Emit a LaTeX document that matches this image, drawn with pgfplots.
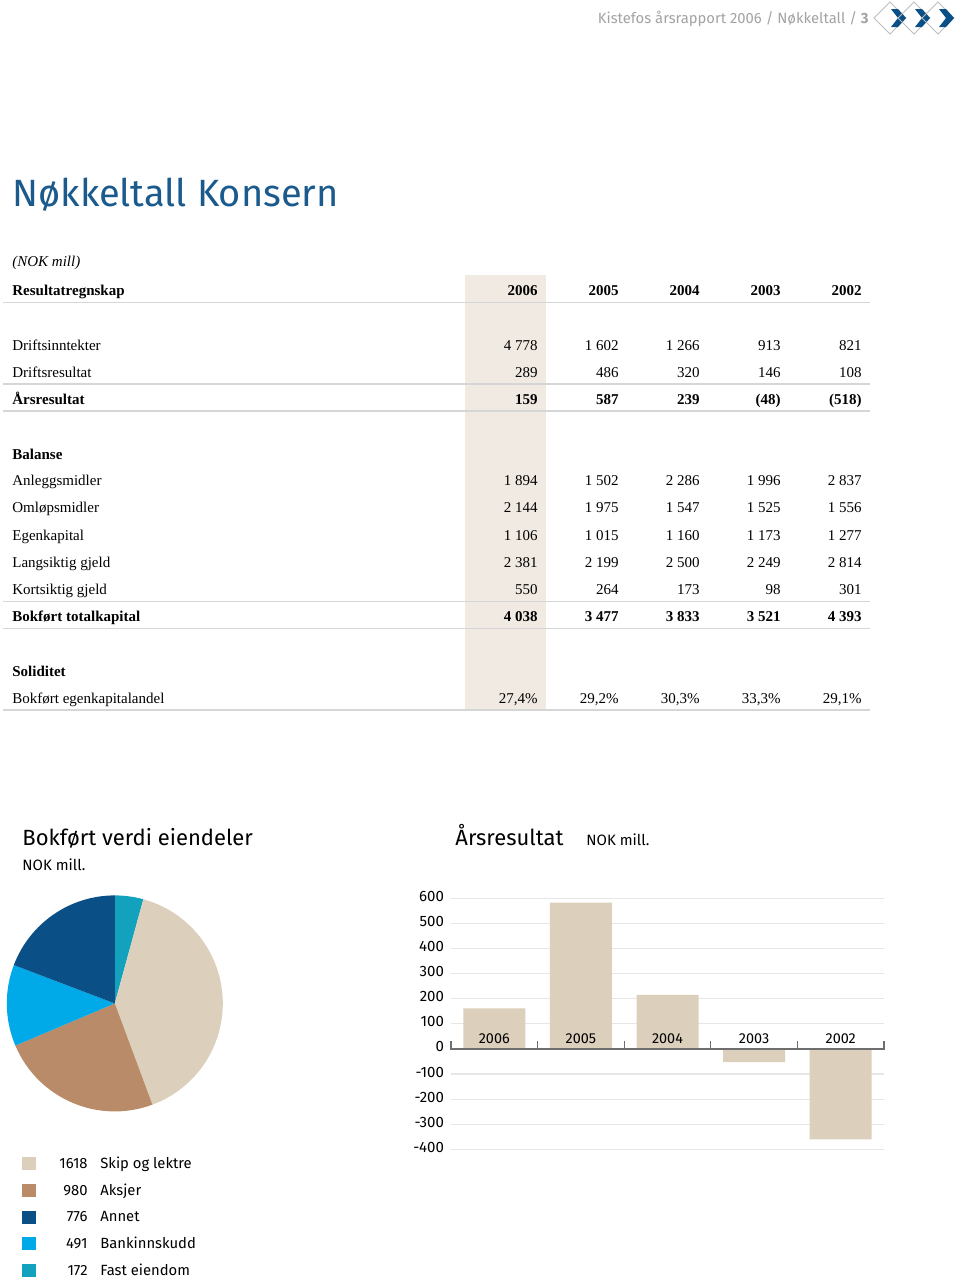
\documentclass[border=0pt]{standalone}
\usepackage{pgfplots}
\pgfplotsset{compat=1.18}
\usepackage{fontspec}
\setmainfont{Liberation Serif}
\newfontfamily\din{Fira Sans}
\definecolor{titleblue}{HTML}{1B5A8C}
\definecolor{hlcol}{HTML}{F1EAE2}
\definecolor{beige}{HTML}{DCD0BC}
\definecolor{pbrown}{HTML}{B98B68}
\definecolor{dblue}{HTML}{0A4F86}
\definecolor{lblue}{HTML}{00A9E8}
\definecolor{pteal}{HTML}{12A2BD}
\definecolor{hdrgray}{HTML}{A3A3A3}
\definecolor{rulecol}{HTML}{D6D6D6}
\definecolor{gridcol}{HTML}{E6E6E6}
\definecolor{axcol}{HTML}{6E6E6E}
\newcommand\tf{\fontsize{7.5pt}{9pt}\selectfont}
\begin{document}
\begin{tikzpicture}
\pgfmathsetmacro\fac{360/(172+1618+980+491+776)}
\pgfmathsetmacro\aA{90-\fac*172}
\pgfmathsetmacro\aB{\aA-\fac*1618}
\pgfmathsetmacro\aC{\aB-\fac*980}
\pgfmathsetmacro\aD{\aC-\fac*491}
\pgfmathsetmacro\aE{\aD-\fac*776}
\begin{scope}[x=0.5pt,y=-0.5pt]
\fill[white] (0,0) rectangle (960,1282);
\path[use as bounding box] (0,0) rectangle (960,1282);
% header
\node[anchor=base east,inner sep=0,text=hdrgray,font=\din\fontsize{7.4pt}{8pt}\selectfont] at (869,23) {Kistefos årsrapport 2006 / Nøkkeltall / \textbf{3}};
\foreach \cx in {890,914,938}{
  \draw[hdrgray!70,line width=0.5pt] (\cx-16,18) -- (\cx,2) -- (\cx+16,18) -- (\cx,34) -- cycle;
  \fill[dblue] (\cx+1,9) -- (\cx+8,9) -- (\cx+16,18) -- (\cx+8,27) -- (\cx+1,27) -- (\cx+8,18) -- cycle;
}
% title
\node[anchor=base west,inner sep=0,text=titleblue,font=\din\fontsize{19pt}{24pt}\selectfont] at (12,206) {Nøkkeltall Konsern};
% table
\fill[hlcol] (465,275) rectangle (546,710);
\foreach \yy in {302.3,384,411,601.7,628.3,710}{\draw[rulecol,line width=0.6pt] (3,\yy) -- (870,\yy);}
\node[anchor=base west,inner sep=0,font=\tf\itshape] at (12,266) {(NOK mill)};
\foreach \lab/\yy/\isb in {Resultatregnskap/295/1,Driftsinntekter/350/0,Driftsresultat/377/0,Årsresultat/404/1,Balanse/459/1,Anleggsmidler/485.5/0,Omløpsmidler/512.5/0,Egenkapital/540/0,Langsiktig gjeld/567/0,Kortsiktig gjeld/594/0,Bokført totalkapital/621.5/1,Soliditet/676/1,Bokført egenkapitalandel/703/0}{
  \ifnum\isb=1 \node[anchor=base west,inner sep=0,font=\tf\bfseries] at (12,\yy) {\lab};
  \else \node[anchor=base west,inner sep=0,font=\tf] at (12,\yy) {\lab};\fi
}
\foreach \yy/\isb/\va/\vb/\vc/\vd/\ve in {
 295/1/2006/2005/2004/2003/2002,
 350/0/4 778/1 602/1 266/913/821,
 377/0/289/486/320/146/108,
 404/1/159/587/239/(48)/(518),
 485.5/0/1 894/1 502/2 286/1 996/2 837,
 512.5/0/2 144/1 975/1 547/1 525/1 556,
 540/0/1 106/1 015/1 160/1 173/1 277,
 567/0/2 381/2 199/2 500/2 249/2 814,
 594/0/550/264/173/98/301,
 621.5/1/4 038/3 477/3 833/3 521/4 393,
 703/0/{27,4\%}/{29,2\%}/{30,3\%}/{33,3\%}/{29,1\%}}{
  \ifnum\isb=1 \tikzset{tv/.style={font=\tf\bfseries}}\else\tikzset{tv/.style={font=\tf}}\fi
  \node[anchor=base east,inner sep=0,tv] at (538,\yy) {\va};
  \node[anchor=base east,inner sep=0,tv] at (619,\yy) {\vb};
  \node[anchor=base east,inner sep=0,tv] at (700,\yy) {\vc};
  \node[anchor=base east,inner sep=0,tv] at (781,\yy) {\vd};
  \node[anchor=base east,inner sep=0,tv] at (862,\yy) {\ve};
}
% chart titles
\node[anchor=base west,inner sep=0,font=\din\fontsize{11pt}{12pt}\selectfont] at (22,845) {Bokført verdi eiendeler};
\node[anchor=base west,inner sep=0,font=\din\fontsize{7.5pt}{8pt}\selectfont] at (22,870) {NOK mill.};
\node[anchor=base west,inner sep=0,font=\din\fontsize{11pt}{12pt}\selectfont] at (455,845) {Årsresultat};
\node[anchor=base west,inner sep=0,font=\din\fontsize{7.5pt}{8pt}\selectfont] at (586,845) {NOK mill.};
% pie legend
\foreach \yy/\col/\val/\lab in {1168.3/beige/1618/Skip og lektre,1195/pbrown/980/Aksjer,1221.7/dblue/776/Annet,1248.3/lblue/491/Bankinnskudd,1275/pteal/172/Fast eiendom}{
  \fill[\col] (22,\yy-11) rectangle (36,\yy+2);
  \node[anchor=base east,inner sep=0,font=\din\fontsize{7.4pt}{8pt}\selectfont] at (88,\yy) {\val};
  \node[anchor=base west,inner sep=0,font=\din\fontsize{7.4pt}{8pt}\selectfont] at (100,\yy) {\lab};
}
\end{scope}
% pie chart
\begin{axis}[hide axis, x=54pt, y=54pt, xmin=-1, xmax=1, ymin=-1, ymax=1,
  anchor=center, at={(57.4pt,-501.7pt)}, clip=false]
\fill[pteal] (axis cs:0,0) -- (axis cs:{cos(90)},{sin(90)}) arc[start angle=90, end angle=\aA, radius=54pt] -- cycle;
\fill[beige] (axis cs:0,0) -- (axis cs:{cos(\aA)},{sin(\aA)}) arc[start angle=\aA, end angle=\aB, radius=54pt] -- cycle;
\fill[pbrown] (axis cs:0,0) -- (axis cs:{cos(\aB)},{sin(\aB)}) arc[start angle=\aB, end angle=\aC, radius=54pt] -- cycle;
\fill[lblue] (axis cs:0,0) -- (axis cs:{cos(\aC)},{sin(\aC)}) arc[start angle=\aC, end angle=\aD, radius=54pt] -- cycle;
\fill[dblue] (axis cs:0,0) -- (axis cs:{cos(\aD)},{sin(\aD)}) arc[start angle=\aD, end angle=\aE, radius=54pt] -- cycle;
\end{axis}
% bar chart
\begin{axis}[scale only axis, width=216.5pt, height=125.5pt,
  anchor=south west, at={(225.5pt,-574.65pt)},
  xmin=-0.5, xmax=4.5, ymin=-400, ymax=600,
  axis line style={draw=none}, tick style={draw=none},
  xtick=\empty,
  ytick={-400,-300,-200,-100,0,100,200,300,400,500,600},
  yticklabels={-400,-300,-200,-100,0,100,200,300,400,500,600},
  yticklabel style={font=\din\fontsize{7.5pt}{8pt}\selectfont, yshift=1pt},
  ymajorgrids, grid style={gridcol, line width=0.6pt},
  clip=false]
\addplot[ybar, bar width=31pt, fill=beige, draw=none] coordinates {(0,161) (1,583) (2,215) (3,-53) (4,-360)};
\draw[axcol, line width=0.8pt] (axis cs:-0.5,0) -- (axis cs:4.5,0);
\pgfplotsinvokeforeach{-0.5,0.5,1.5,2.5,3.5,4.5}{\draw[axcol, line width=0.6pt] (axis cs:#1,-3) -- (axis cs:#1,30);}
\node[anchor=base,inner sep=0,font=\din\fontsize{7.2pt}{8pt}\selectfont] at (axis cs:0,0) [yshift=2.8pt] {2006};
\node[anchor=base,inner sep=0,font=\din\fontsize{7.2pt}{8pt}\selectfont] at (axis cs:1,0) [yshift=2.8pt] {2005};
\node[anchor=base,inner sep=0,font=\din\fontsize{7.2pt}{8pt}\selectfont] at (axis cs:2,0) [yshift=2.8pt] {2004};
\node[anchor=base,inner sep=0,font=\din\fontsize{7.2pt}{8pt}\selectfont] at (axis cs:3,0) [yshift=2.8pt] {2003};
\node[anchor=base,inner sep=0,font=\din\fontsize{7.2pt}{8pt}\selectfont] at (axis cs:4,0) [yshift=2.8pt] {2002};
\end{axis}
\end{tikzpicture}
\end{document}
